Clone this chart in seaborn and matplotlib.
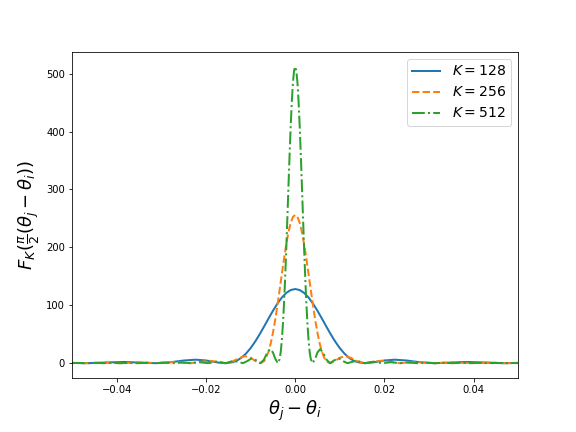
import matplotlib
matplotlib.use("Agg")
import matplotlib.pyplot as plt
import seaborn as sns

# --- DATA ---
K_LABELS = ["$K=128$", "$K=256$", "$K=512$"]

x_128 = [-0.05, -0.0469, -0.042, -0.0383, -0.034, -0.0312, -0.028, -0.025, -0.0223,
         -0.020, -0.018, -0.017, -0.0156, -0.014, -0.013, -0.012, -0.011, -0.010,
         -0.009, -0.008, -0.007, -0.006, -0.005, -0.004, -0.003, -0.002, -0.001,
         0.0,
         0.001, 0.002, 0.003, 0.004, 0.005, 0.006, 0.007, 0.008, 0.009, 0.010,
         0.011, 0.012, 0.013, 0.014, 0.0156, 0.017, 0.018, 0.020, 0.0223, 0.025,
         0.028, 0.0312, 0.034, 0.0383, 0.042, 0.0469, 0.05]
y_128 = [0.44, 0, 1.24, 2.11, 0.76, 0, 1.52, 4.58, 6.04,
         4.68, 2.05, 0.82, 0, 1.67, 4.7, 9.7, 16.8, 25.9,
         36.9, 49.4, 62.9, 76.8, 90.3, 102.7, 113.3, 121.3, 126.3,
         128.0,
         126.3, 121.3, 113.3, 102.7, 90.3, 76.8, 62.9, 49.4, 36.9, 25.9,
         16.8, 9.7, 4.7, 1.67, 0, 0.82, 2.05, 4.68, 6.04, 4.58,
         1.52, 0, 0.76, 2.11, 1.24, 0, 0.44]

x_256 = [-0.05, -0.0469, -0.043, -0.0391, -0.0352, -0.0312, -0.0273, -0.0234, -0.021,
         -0.0192, -0.0175, -0.0156, -0.014, -0.0125, -0.0112, -0.010, -0.009, -0.0078,
         -0.007, -0.0065, -0.006, -0.0055, -0.005, -0.0045, -0.004, -0.0035, -0.003,
         -0.0025, -0.002, -0.0015, -0.001, -0.0005,
         0.0,
         0.0005, 0.001, 0.0015, 0.002, 0.0025, 0.003, 0.0035, 0.004, 0.0045,
         0.005, 0.0055, 0.006, 0.0065, 0.007, 0.0078, 0.009, 0.010, 0.0112,
         0.0125, 0.014, 0.0156, 0.0175, 0.0192, 0.021, 0.0234, 0.0273, 0.0312,
         0.0352, 0.0391, 0.043, 0.0469, 0.05]
y_256 = [0.57, 0, 0.86, 0, 1.3, 0, 2.1, 0, 2.5,
         4.2, 2.4, 0, 3.0, 9.2, 12.1, 9.4, 4.1, 0,
         3.3, 9.4, 19.5, 33.6, 51.8, 73.8, 98.9, 125.8, 153.6,
         180.6, 205.4, 226.6, 242.6, 252.6,
         256.0,
         252.6, 242.6, 226.6, 205.4, 180.6, 153.6, 125.8, 98.9, 73.8,
         51.8, 33.6, 19.5, 9.4, 3.3, 0, 4.1, 9.4, 12.1,
         9.2, 3.0, 0, 2.4, 4.2, 2.5, 0, 2.1, 0,
         1.3, 0, 0.86, 0, 0.57]

x_512 = [-0.05, -0.0488, -0.0469, -0.0449, -0.043, -0.041, -0.0391, -0.0371, -0.0352,
         -0.0332, -0.0312, -0.0293, -0.0273, -0.0254, -0.0234, -0.0215, -0.0195,
         -0.0176, -0.0156, -0.0137, -0.0117, -0.0107, -0.0098, -0.0088, -0.0078,
         -0.007, -0.0063, -0.0056, -0.005, -0.0045, -0.0039, -0.0035, -0.00325,
         -0.003, -0.00275, -0.0025, -0.00225, -0.002, -0.00175, -0.0015, -0.00125,
         -0.001, -0.00075, -0.0005, -0.00025,
         0.0,
         0.00025, 0.0005, 0.00075, 0.001, 0.00125, 0.0015, 0.00175, 0.002,
         0.00225, 0.0025, 0.00275, 0.003, 0.00325, 0.0035, 0.0039, 0.0045,
         0.005, 0.0056, 0.0063, 0.007, 0.0078, 0.0088, 0.0098, 0.0107, 0.0117,
         0.0137, 0.0156, 0.0176, 0.0195, 0.0215, 0.0234, 0.0254, 0.0273, 0.0293,
         0.0312, 0.0332, 0.0352, 0.0371, 0.0391, 0.041, 0.043, 0.0449, 0.0469,
         0.0488, 0.05]
y_512 = [0.1, 0.3, 0, 0.4, 0, 0.5, 0, 0.6, 0,
         0.7, 0, 0.9, 0, 1.2, 0, 1.7, 0,
         2.6, 0, 4.2, 0, 3.7, 8.3, 5.2, 0,
         6.1, 17.7, 24.2, 18.7, 8.2, 0, 6.7, 18.8,
         39.0, 67.2, 103.6, 147.6, 197.6, 251.6, 307.2, 361.2,
         410.8, 453.1, 485.1, 505.2,
         512.0,
         505.2, 485.1, 453.1, 410.8, 361.2, 307.2, 251.6, 197.6,
         147.6, 103.6, 67.2, 39.0, 18.8, 6.7, 0, 8.2,
         18.7, 24.2, 17.7, 6.1, 0, 5.2, 8.3, 3.7, 0,
         4.2, 0, 2.6, 0, 1.7, 0, 1.2, 0, 0.9,
         0, 0.7, 0, 0.6, 0, 0.5, 0, 0.4, 0,
         0.3, 0.1]

X_TICKS = [-0.04, -0.02, 0.00, 0.02, 0.04]
Y_TICKS = [0, 100, 200, 300, 400, 500]

fig, ax = plt.subplots(figsize=(8, 6), dpi=72)
fig.subplots_adjust(left=0.125, right=0.9, top=0.88, bottom=0.125)

sns.lineplot(x=x_128, y=y_128, ax=ax, color="C0", linewidth=2, linestyle="-",
             label=K_LABELS[0], sort=False)
sns.lineplot(x=x_256, y=y_256, ax=ax, color="C1", linewidth=2, linestyle="--",
             label=K_LABELS[1], sort=False)
sns.lineplot(x=x_512, y=y_512, ax=ax, color="C2", linewidth=2, linestyle="-.",
             label=K_LABELS[2], sort=False)

ax.set_xlim(-0.05, 0.05)
ax.set_xticks(X_TICKS)
ax.set_yticks(Y_TICKS)
ax.set_xlabel(r"$\theta_j-\theta_i$", fontsize=18)
ax.set_ylabel(r"$F_K(\frac{\pi}{2}(\theta_j-\theta_i))$", fontsize=18)
ax.legend(loc="upper right", fontsize=14)

fig.savefig("out.png", dpi=72)
